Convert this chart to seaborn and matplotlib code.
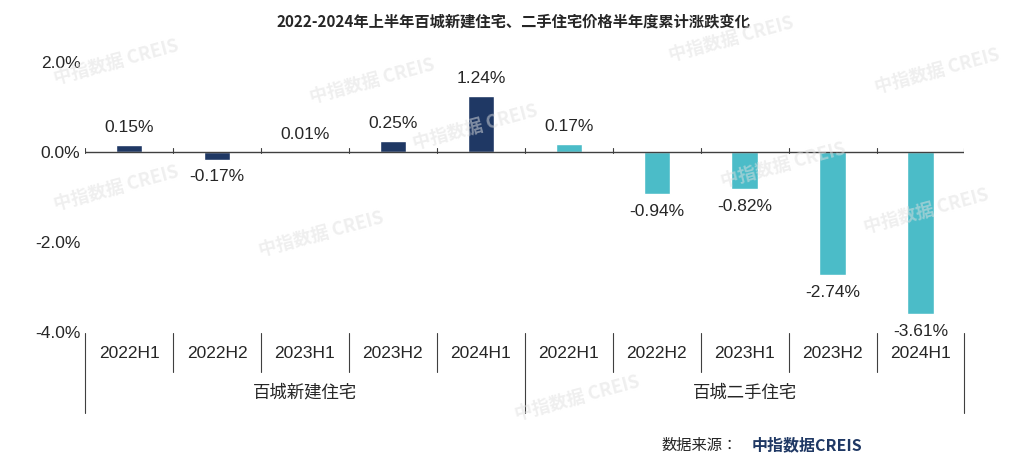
import pandas as pd
import matplotlib.pyplot as plt
import seaborn as sns

sns.set_theme(style="white")
plt.rcParams["font.sans-serif"] = ["Liberation Sans", "DejaVu Sans"]
plt.rcParams["font.family"] = "sans-serif"
plt.rcParams["axes.unicode_minus"] = False
CJK = ["Noto Sans CJK JP", "Noto Sans CJK SC"]

periods = ["2022H1", "2022H2", "2023H1", "2023H2", "2024H1"]
groups = ["百城新建住宅", "百城二手住宅"]
new_home = [0.15, -0.17, 0.01, 0.25, 1.24]
second_hand = [0.17, -0.94, -0.82, -2.74, -3.61]

df = pd.DataFrame({
    "cat": [f"{g}_{p}" for g in groups for p in periods],
    "period": periods * 2,
    "group": [groups[0]] * 5 + [groups[1]] * 5,
    "val": new_home + second_hand,
})

fig = plt.figure(figsize=(10.26, 4.66), dpi=100)
ax = fig.add_axes([0.083, 0.288, 0.857, 0.579])
sns.barplot(df, x="cat", y="val", hue="group", dodge=False, width=0.3,
            palette=["#1F3864", "#4BBCC8"], saturation=1, legend=False, ax=ax)

ax.set_ylim(-4, 2)
ax.set_xlim(-0.5, 9.5)
ax.set_yticks([-4, -2, 0, 2])
ax.set_yticklabels(["-4.0%", "-2.0%", "0.0%", "2.0%"], fontsize=12.5)
ax.set_xticks(range(10))
ax.set_xticklabels(df["period"], fontsize=12.5)
ax.tick_params(axis="x", length=0, pad=10)
ax.tick_params(axis="y", length=0)
ax.set_xlabel("")
ax.set_ylabel("")
for s in ["top", "right", "left", "bottom"]:
    ax.spines[s].set_visible(False)
ax.axhline(0, color="#404040", lw=1)
ax.grid(False)

for i, v in enumerate(df["val"]):
    if v >= 0:
        ax.text(i, v + 0.22, f"{v:.2f}%", ha="center", va="bottom", fontsize=12.5)
    else:
        ax.text(i, v - 0.22, f"{v:.2f}%", ha="center", va="top", fontsize=12.5)

# separators under the category axis
for k in range(11):
    x = k / 10.0
    ymin = -0.3 if k in (0, 5, 10) else -0.15
    ax.plot([x, x], [-0.005, ymin], transform=ax.transAxes, color="#404040",
            lw=0.8, clip_on=False)
    ax.plot([x, x], [0.663, 0.683], transform=ax.transAxes, color="#404040", lw=0.8)

ax.text(0.25, -0.245, groups[0], transform=ax.transAxes, ha="center", fontsize=12.5, family=CJK)
ax.text(0.75, -0.245, groups[1], transform=ax.transAxes, ha="center", fontsize=12.5, family=CJK)

fig.text(0.5, 0.955, "2022-2024年上半年百城新建住宅、二手住宅价格半年度累计涨跌变化",
         ha="center", va="center", fontsize=11, fontweight="bold", family=CJK)
fig.text(0.645, 0.045, "数据来源：", fontsize=11, va="center", family=CJK)
fig.text(0.733, 0.045, "中指数据CREIS", fontsize=11.5, va="center",
         fontweight="bold", color="#1F3864", family=CJK)

for (x, y) in [(0.05, 0.82), (0.3, 0.78), (0.65, 0.87), (0.85, 0.8), (0.05, 0.55),
               (0.4, 0.68), (0.7, 0.6), (0.84, 0.5), (0.25, 0.45), (0.5, 0.1)]:
    fig.text(x, y, "中指数据 CREIS", fontsize=13, color="#e0e0e0", alpha=0.5,
             rotation=15, fontweight="bold", family=CJK)

fig.savefig("out.png", dpi=100)
